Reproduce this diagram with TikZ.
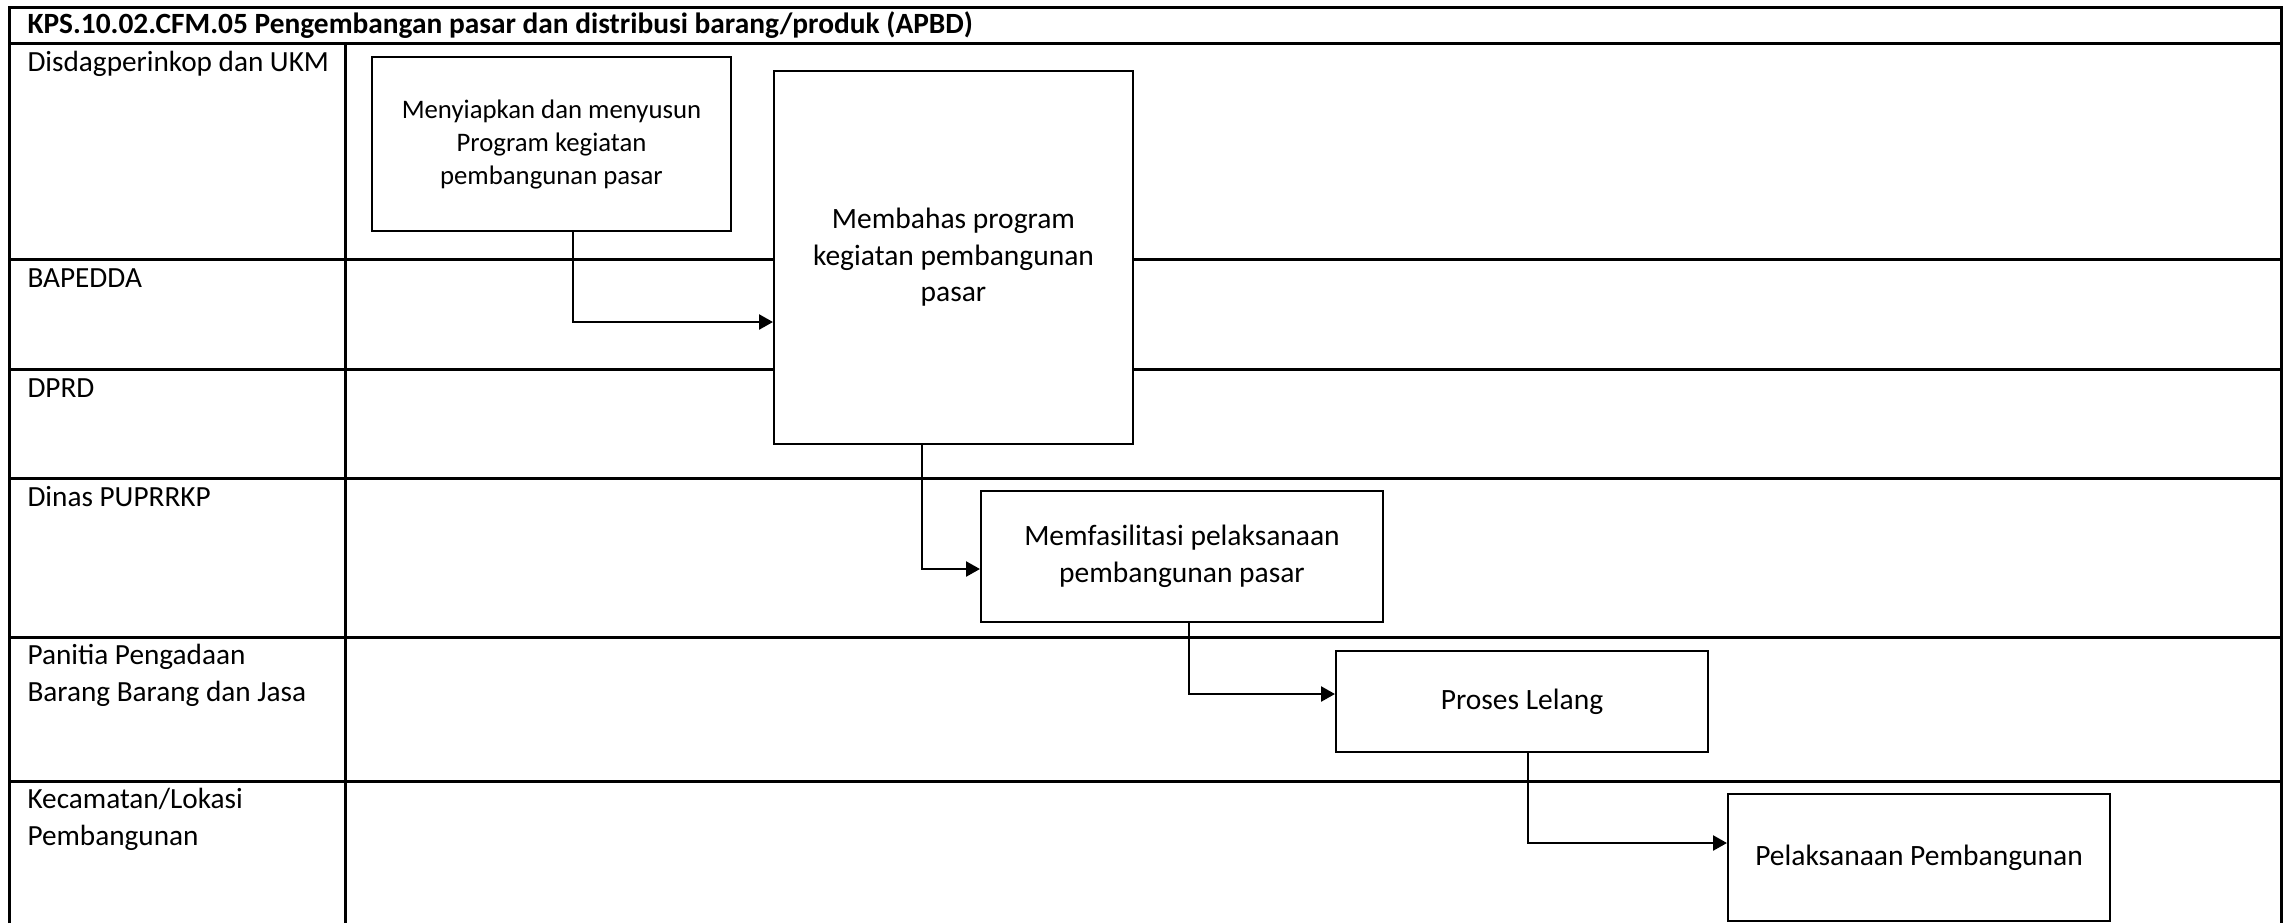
\documentclass[tikz,border=0pt]{standalone}
\usepackage{fontspec}
\setmainfont{Carlito}
\usetikzlibrary{positioning,arrows.meta}

\begin{document}
\begin{tikzpicture}[x=0.4pt, y=-0.4pt,
		proc/.style={draw, fill=white, line width=0.8pt, align=center, inner sep=2pt, font=\fontsize{11.8}{14.6}\selectfont},
		lane/.style={anchor=base west, inner sep=0pt, align=left, font=\fontsize{11.7}{14.6}\selectfont},
		flow/.style={-{Triangle[length=5.6pt,width=6pt]}, line width=1pt},
		frame/.style={line width=1.2pt}
		]
		\useasboundingbox (0,0) rectangle (2289,923);
		% swimlane frame
		\draw[frame] (9,923) -- (9,7) -- (2281,7) -- (2281,923);
		\draw[frame] (9,43) -- (2281,43);
		\draw[frame] (345,43) -- (345,923);
		\foreach \y in {259,369,478,637,781}
			\draw[frame] (9,\y) -- (2281,\y);
		\node[anchor=base west, inner sep=0pt, font=\bfseries\fontsize{11.75}{13}\selectfont] (title) at (27,33) {KPS.10.02.CFM.05 Pengembangan pasar dan distribusi barang/produk (APBD)};
		% lane labels
		\node[lane] (disdag) at (27,71) {Disdagperinkop dan UKM};
		\node[lane] (bapedda) at (27,287) {BAPEDDA};
		\node[lane] (dprd) at (27,397) {DPRD};
		\node[lane] (dinas) at (27,506) {Dinas PUPRRKP};
		\node[lane] (panitia) at (27,701) {Panitia Pengadaan\\Barang Barang dan Jasa};
		\node[lane] (kecamatan) at (27,845) {Kecamatan/Lokasi\\Pembangunan};
		% steps
		\node[proc, minimum width=143.6pt, minimum height=69.6pt, font=\fontsize{10.7}{13.2}\selectfont] (prep) at (551.5,144) {Menyiapkan dan menyusun\\Program kegiatan\\pembangunan pasar};
		\node[proc, minimum width=143.6pt, minimum height=149.2pt] (bahas) at (953.5,257.5) {Membahas program\\kegiatan pembangunan\\pasar};
		\node[proc, minimum width=160.8pt, minimum height=52.4pt] (fasil) at (1182,556.5) {Memfasilitasi pelaksanaan\\pembangunan pasar};
		\node[proc, minimum width=148.8pt, minimum height=40.4pt] (lelang) at (1522,701.5) {Proses Lelang};
		\node[proc, minimum width=152.8pt, minimum height=50.8pt] (laksana) at (1919,857.5) {Pelaksanaan Pembangunan};
		% connectors
		\coordinate (k1) at (573,322);
		\coordinate (k2) at (922,569);
		\coordinate (k3) at (1189,694);
		\coordinate (k4) at (1528,843);
		\draw[flow] (prep.south -| k1) |- (bahas.west |- k1);
		\draw[flow] (bahas.south -| k2) |- (fasil.west |- k2);
		\draw[flow] (fasil.south -| k3) |- (lelang.west |- k3);
		\draw[flow] (lelang.south -| k4) |- (laksana.west |- k4);
	\end{tikzpicture}
\end{document}
